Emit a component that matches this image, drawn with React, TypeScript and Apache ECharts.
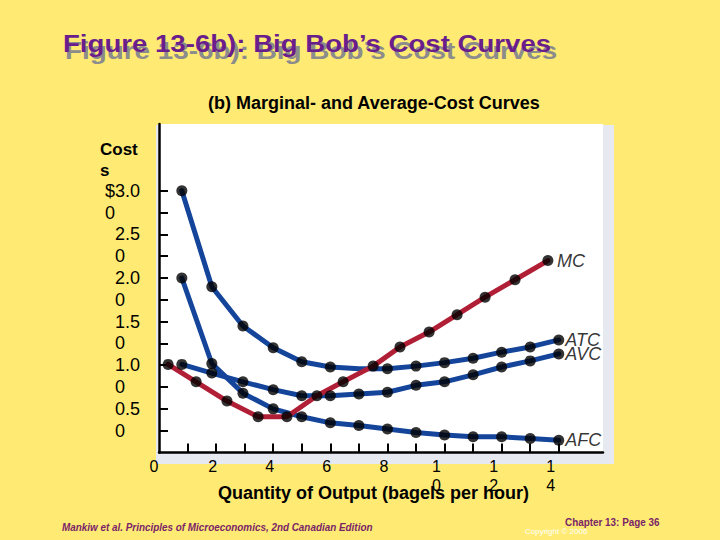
import React, { useEffect, useRef } from "react";
import * as echarts from "echarts";

// ---- data ----
const quantityAvg = [0.8, 1.85, 2.94, 4, 5, 6, 7, 8, 9, 10, 11, 12, 13, 14];
const afc = [2.0, 1.02, 0.68, 0.5, 0.41, 0.34, 0.31, 0.27, 0.23, 0.2, 0.18, 0.18, 0.16, 0.14];
const avc = [1.01, 0.91, 0.81, 0.72, 0.65, 0.65, 0.67, 0.69, 0.77, 0.81, 0.89, 0.98, 1.05, 1.13];
const atc = [3.0, 1.9, 1.45, 1.2, 1.04, 0.98, 0.96, 0.96, 0.99, 1.03, 1.08, 1.15, 1.21, 1.29];
const atcNoDot = [6];
const quantityMc = [0.32, 1.3, 2.38, 3.47, 4.48, 5.53, 6.45, 7.5, 8.44, 9.46, 10.44, 11.42, 12.47, 13.62];
const mc = [1.01, 0.81, 0.59, 0.41, 0.41, 0.65, 0.81, 0.99, 1.21, 1.38, 1.58, 1.78, 1.98, 2.2];

const xTickValues = [1, 2, 3, 4, 5, 6, 7, 8, 9, 10, 11, 12, 13, 14];
const xLabelValues = [0, 2, 4, 6, 8, 10, 12, 14];
const xLabelTexts = ["0", "2", "4", "6", "8", "10", "12", "14"];
const yTickValues = [0.25, 0.5, 0.75, 1, 1.25, 1.5, 1.75, 2, 2.25, 2.5, 2.75, 3];
const yLabelValues = [0.5, 1, 1.5, 2, 2.5, 3];
const yLabelTexts = ["0.50", "1.00", "1.50", "2.00", "2.50", "$3.00"];

const BLUE = "#15459a";
const RED = "#b01f36";
const FONT = "'Liberation Sans', Arial, Helvetica, sans-serif";

function pairs(xs: number[], ys: number[]) {
  return xs.map((x, i) => [x, ys[i]]);
}

function dots(xs: number[], ys: number[], name: string, distance: number, skip: number[] = []) {
  const out: any[] = [];
  xs.forEach((x, i) => {
    if (skip.includes(i)) return;
    const item: any = { value: [x, ys[i]] };
    if (i === xs.length - 1) {
      item.label = {
        show: true,
        position: "right",
        distance,
        formatter: name,
        fontStyle: "italic",
        fontSize: 18,
        fontFamily: FONT,
        color: "#000",
      };
    }
    out.push(item);
  });
  return out;
}

export default function App() {
  const ref = useRef<HTMLDivElement>(null);
  useEffect(() => {
    document.body.style.margin = "0";
    const chart = echarts.init(ref.current!, null, { renderer: "svg" });
    const lineBase = (name: string, data: number[][], color: string, z: number) => ({
      name,
      type: "line",
      data,
      symbol: "none",
      lineStyle: { color, width: 5, join: "round", cap: "round" },
      z,
    });
    const dotBase = (name: string, data: any[]) => ({
      name: name + "-dots",
      type: "scatter",
      data,
      symbol: "circle",
      symbolSize: 11,
      itemStyle: { color: "#000" },
      z: 10,
    });
    const option: any = {
      animation: false,
      backgroundColor: "#ffeb73",
      grid: { left: 159, top: 124, width: 444, height: 328.5 },
      xAxis: {
        type: "value",
        min: 0,
        max: 15.55,
        splitLine: { show: false },
        axisLine: { show: true, onZero: false, lineStyle: { color: "#000", width: 2.5 } },
        axisTick: {
          show: true,
          inside: true,
          length: 9,
          customValues: xTickValues,
          lineStyle: { color: "#000", width: 2 },
        },
        axisLabel: {
          customValues: xLabelValues,
          margin: 4,
          formatter: (v: number) => {
            const t = xLabelTexts[xLabelValues.indexOf(v)] ?? String(v);
            if (t.length > 1) return t.split("").map((c) => `{w|${c}}`).join("\n");
            if (t === "0") return `{z|${t}}`;
            return `{n|${t}}`;
          },
          rich: {
            n: { fontSize: 16, lineHeight: 19, fontFamily: FONT, color: "#000", padding: [0, 7, 0, 0] },
            z: { fontSize: 16, lineHeight: 19, fontFamily: FONT, color: "#000", padding: [0, 10, 0, 0] },
            w: { fontSize: 16, lineHeight: 19, fontFamily: FONT, color: "#000", padding: [0, 16, 0, 0] },
          },
        },
      },
      yAxis: {
        type: "value",
        min: 0,
        max: 3.765,
        splitLine: { show: false },
        axisLine: { show: true, onZero: false, lineStyle: { color: "#000", width: 2.5 } },
        axisTick: {
          show: true,
          inside: true,
          length: 9,
          customValues: yTickValues,
          lineStyle: { color: "#000", width: 2 },
        },
        axisLabel: {
          customValues: yLabelValues,
          margin: 19,
          align: "right",
          verticalAlign: "middle",
          padding: [21.8, 0, 0, 0],
          formatter: (v: number) => {
            const t = yLabelTexts[yLabelValues.indexOf(v)] ?? String(v);
            const a = t.slice(0, -1);
            const b = t.slice(-1);
            return `{a|${a}}\n{${a.length > 3 ? "c" : "b"}|${b}}`;
          },
          rich: {
            a: { fontSize: 18, lineHeight: 21.8, fontFamily: FONT, color: "#000" },
            b: { fontSize: 18, lineHeight: 21.8, fontFamily: FONT, color: "#000", width: 25, align: "left" },
            c: { fontSize: 18, lineHeight: 21.8, fontFamily: FONT, color: "#000", width: 35, align: "left" },
          },
        },
      },
      graphic: [
        { type: "rect", z: -2, silent: true, shape: { x: 156, y: 125, width: 458, height: 339 }, style: { fill: "#e6e9f0" } },
        { type: "rect", z: -1, silent: true, shape: { x: 158, y: 124, width: 445, height: 328.5 }, style: { fill: "#ffffff" } },
        {
          type: "text", z: 50, x: 65, y: 51, scaleX: 1.16, originX: 0,
          style: { text: "Figure 13-6b): Big Bob’s Cost Curves", fill: "#8c8c8c", font: `bold 24px ${FONT}`, verticalAlign: "middle" },
        },
        {
          type: "text", z: 51, x: 63, y: 44, scaleX: 1.15, originX: 0,
          style: { text: "Figure 13-6b): Big Bob’s Cost Curves", fill: "#6a1e8c", font: `bold 24px ${FONT}`, verticalAlign: "middle" },
        },
        {
          type: "text", z: 50, x: 208, y: 103,
          style: { text: "(b) Marginal- and Average-Cost Curves", fill: "#000", font: `bold 18px ${FONT}`, verticalAlign: "middle" },
        },
        {
          type: "text", z: 50, x: 100, y: 138.5,
          style: { text: "Cost\ns", fill: "#000", font: `bold 17px ${FONT}`, lineHeight: 21, verticalAlign: "top" },
        },
        {
          type: "text", z: 50, x: 373.5, y: 493,
          style: { text: "Quantity of Output (bagels per hour)", fill: "#000", font: `bold 18px ${FONT}`, align: "center", verticalAlign: "middle" },
        },
        {
          type: "text", z: 50, x: 62, y: 527, scaleX: 0.9, originX: 0,
          style: { text: "Mankiw et al. Principles of Microeconomics, 2nd Canadian Edition", fill: "#7a2468", font: `italic bold 11px ${FONT}`, verticalAlign: "middle" },
        },
        {
          type: "text", z: 50, x: 525, y: 531,
          style: { text: "Copyright © 2006", fill: "#ffffff", font: `8px ${FONT}`, verticalAlign: "middle" },
        },
        {
          type: "text", z: 51, x: 565, y: 522, scaleX: 0.9, originX: 0,
          style: { text: "Chapter 13: Page 36", fill: "#7a2468", font: `bold 11px ${FONT}`, verticalAlign: "middle" },
        },
      ],
      series: [
        lineBase("AFC", pairs(quantityAvg, afc), BLUE, 2),
        lineBase("AVC", pairs(quantityAvg, avc), BLUE, 3),
        lineBase("ATC", pairs(quantityAvg, atc), BLUE, 4),
        lineBase("MC", pairs(quantityMc, mc), RED, 5),
        dotBase("AFC", dots(quantityAvg, afc, "AFC", 1)),
        dotBase("AVC", dots(quantityAvg, avc, "AVC", 1)),
        dotBase("ATC", dots(quantityAvg, atc, "ATC", 1, atcNoDot)),
        dotBase("MC", dots(quantityMc, mc, "MC", 3.5)),
      ],
    };
    chart.setOption(option);
    return () => chart.dispose();
  }, []);
  return (
    <div
      ref={ref}
      style={{ position: "fixed", left: 0, top: 0, width: 720, height: 540 }}
    />
  );
}
